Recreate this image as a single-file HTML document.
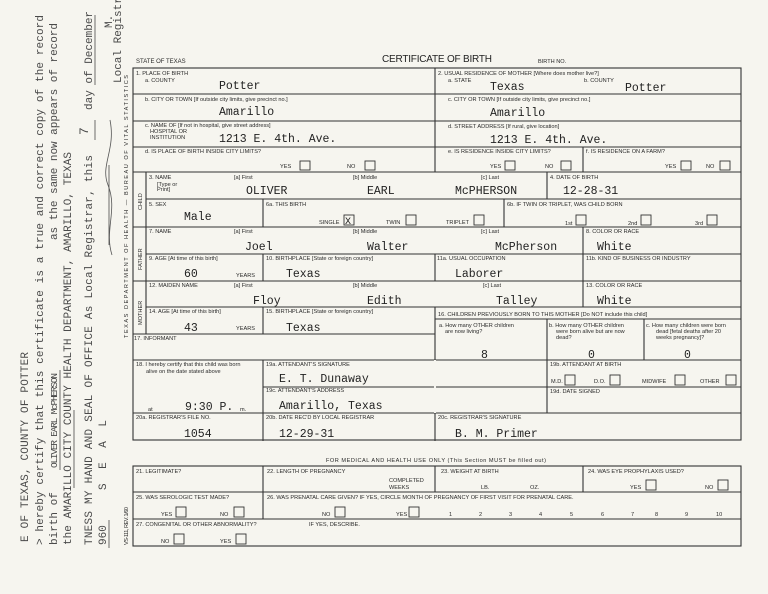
<!DOCTYPE html>
<html><head><meta charset="utf-8"><style>
html,body{margin:0;padding:0;background:#f6f5ef;}
svg{display:block}
.l{font-family:"Liberation Sans",sans-serif;font-size:5.6px;fill:#2a2a2a}
.v{font-family:"Liberation Mono",monospace;font-size:11.5px;fill:#222}
.r{font-family:"Liberation Mono",monospace;font-size:11px;fill:#4a4a4a}
.ln{stroke:#333;stroke-width:1.1;fill:none}
.bx{stroke:#333;stroke-width:0.9;fill:none}
</style></head><body>
<svg width="768" height="594" viewBox="0 0 768 594" xmlns="http://www.w3.org/2000/svg">
<rect width="768" height="594" fill="#f6f5ef"/>
<!-- left rotated certification -->
<g class="r">
<text transform="translate(28,542) rotate(-90)" textLength="190">E OF TEXAS, COUNTY OF POTTER</text>
<text transform="translate(43,545) rotate(-90)" textLength="530">&gt; hereby certify that this certificate is a true and correct copy of the record</text>
<text transform="translate(57,545) rotate(-90)">birth of</text>
<text transform="translate(57,468) rotate(-90)" style="font-size:9.5px" textLength="95">OLIVER EARL McPHERSON</text>
<text transform="translate(57,240) rotate(-90)" textLength="217">as the same now appears of record</text>
<text transform="translate(71,545) rotate(-90)" textLength="393">the AMARILLO CITY COUNTY HEALTH DEPARTMENT, AMARILLO, TEXAS</text>
<text transform="translate(92,545) rotate(-90)" textLength="390">TNESS MY HAND AND SEAL OF OFFICE As Local Registrar, this</text>
<text transform="translate(88,135) rotate(-90)" style="font-size:13px">7</text>
<text transform="translate(92,110) rotate(-90)">day of December</text>
<text transform="translate(106,545) rotate(-90)">960</text>
<text transform="translate(106,490) rotate(-90)" textLength="70">S E A L</text>
<text transform="translate(112,28) rotate(-90)">M.</text>
<text transform="translate(121,83) rotate(-90)">Local Registr</text>
</g>
<line class="ln" x1="60" y1="470" x2="60" y2="370" style="stroke-width:0.7"/>
<line class="ln" x1="74" y1="488" x2="74" y2="410" style="stroke-width:0.7"/>
<line class="ln" x1="109" y1="548" x2="109" y2="520" style="stroke-width:0.7"/>
<line class="ln" x1="109" y1="245" x2="109" y2="165" style="stroke-width:0.7"/>
<line class="ln" x1="95" y1="140" x2="95" y2="120" style="stroke-width:0.7"/>
<line class="ln" x1="95" y1="85" x2="95" y2="15" style="stroke-width:0.7"/>
<path d="M112 255 C104 230 118 210 108 185 C100 165 116 150 110 120" stroke="#555" stroke-width="0.8" fill="none"/>
<g class="l">
<text transform="translate(128,338) rotate(-90)" textLength="263">TEXAS DEPARTMENT OF HEALTH — BUREAU OF VITAL STATISTICS</text>
<text transform="translate(128,545) rotate(-90)" textLength="38">VS-111, REV. 1/60</text>
</g>

<!-- header -->
<text class="l" x="136" y="63" style="font-size:6px">STATE OF TEXAS</text>
<text x="382" y="62" style="font-family:'Liberation Sans',sans-serif;font-size:10px;fill:#222" textLength="110">CERTIFICATE OF BIRTH</text>
<text class="l" x="538" y="63">BIRTH NO.</text>

<!-- main box lines -->
<g class="ln">
<rect x="133" y="68" width="608" height="372"/>
<line x1="435" y1="68" x2="435" y2="172"/>
<line x1="133" y1="94" x2="741" y2="94"/>
<line x1="133" y1="121" x2="741" y2="121"/>
<line x1="133" y1="147" x2="741" y2="147"/>
<line x1="583" y1="147" x2="583" y2="172"/>
<line x1="133" y1="172" x2="741" y2="172"/>
<line x1="146" y1="172" x2="146" y2="334"/>
<line x1="547" y1="172" x2="547" y2="199"/>
<line x1="146" y1="199" x2="741" y2="199"/>
<line x1="263" y1="199" x2="263" y2="227"/>
<line x1="504" y1="199" x2="504" y2="227"/>
<line x1="133" y1="227" x2="741" y2="227"/>
<line x1="583" y1="227" x2="583" y2="307"/>
<line x1="146" y1="254" x2="741" y2="254"/>
<line x1="263" y1="254" x2="263" y2="281"/>
<line x1="435" y1="254" x2="435" y2="281"/>
<line x1="133" y1="281" x2="741" y2="281"/>
<line x1="146" y1="307" x2="741" y2="307"/>
<line x1="263" y1="307" x2="263" y2="334"/>
<line x1="435" y1="307" x2="435" y2="441"/>
<line x1="435" y1="319" x2="741" y2="319"/>
<line x1="547" y1="319" x2="547" y2="413"/>
<line x1="644" y1="319" x2="644" y2="360"/>
<line x1="133" y1="334" x2="435" y2="334"/>
<line x1="133" y1="360" x2="741" y2="360"/>
<line x1="263" y1="360" x2="263" y2="441"/>
<line x1="263" y1="387" x2="741" y2="387"/>
<line x1="133" y1="413" x2="741" y2="413"/>
</g>
<line x1="435" y1="360" x2="435" y2="413" stroke="#f6f5ef" stroke-width="2"/>

<!-- section 1 left -->
<g class="l">
<text x="136" y="75">1. PLACE OF BIRTH</text>
<text x="145" y="82">a. COUNTY</text>
<text x="145" y="101">b. CITY OR TOWN [If outside city limits, give precinct no.]</text>
<text x="145" y="127">c. NAME OF [If not in hospital, give street address]</text>
<text x="150" y="133">HOSPITAL OR</text>
<text x="150" y="139">INSTITUTION</text>
<text x="145" y="153">d. IS PLACE OF BIRTH INSIDE CITY LIMITS?</text>
<text x="280" y="168">YES</text><text x="347" y="168">NO</text>
<text x="438" y="75">2. USUAL RESIDENCE OF MOTHER [Where does mother live?]</text>
<text x="448" y="82">a. STATE</text><text x="584" y="82">b. COUNTY</text>
<text x="448" y="101">c. CITY OR TOWN [If outside city limits, give precinct no.]</text>
<text x="448" y="128">d. STREET ADDRESS [If rural, give location]</text>
<text x="448" y="153">e. IS RESIDENCE INSIDE CITY LIMITS?</text>
<text x="586" y="153">f. IS RESIDENCE ON A FARM?</text>
<text x="490" y="168">YES</text><text x="545" y="168">NO</text>
<text x="665" y="168">YES</text><text x="706" y="168">NO</text>
</g>
<g class="v">
<text x="219" y="89">Potter</text>
<text x="219" y="115">Amarillo</text>
<text x="219" y="142">1213 E. 4th. Ave.</text>
<text x="490" y="90">Texas</text>
<text x="625" y="91">Potter</text>
<text x="490" y="116">Amarillo</text>
<text x="490" y="143">1213 E. 4th. Ave.</text>
</g>
<g class="bx">
<rect x="300" y="161" width="10" height="9"/><rect x="365" y="161" width="10" height="9"/>
<rect x="505" y="161" width="10" height="9"/><rect x="561" y="161" width="10" height="9"/>
<rect x="681" y="161" width="10" height="9"/><rect x="720" y="161" width="10" height="9"/>
</g>

<!-- sidebar labels -->
<g class="l">
<text transform="translate(142,210) rotate(-90)">CHILD</text>
<text transform="translate(142,270) rotate(-90)">FATHER</text>
<text transform="translate(142,325) rotate(-90)">MOTHER</text>
</g>

<!-- child -->
<g class="l">
<text x="149" y="179">3. NAME</text>
<text x="157" y="186">[Type or</text><text x="157" y="191">Print]</text>
<text x="234" y="179">[a] First</text><text x="353" y="179">[b] Middle</text><text x="481" y="179">[c] Last</text>
<text x="550" y="179">4. DATE OF BIRTH</text>
<text x="149" y="206">5. SEX</text>
<text x="266" y="206">6a. THIS BIRTH</text>
<text x="319" y="224">SINGLE</text><text x="386" y="224">TWIN</text><text x="446" y="224">TRIPLET</text>
<text x="507" y="206">6b. IF TWIN OR TRIPLET, WAS CHILD BORN</text>
<text x="565" y="225">1st</text><text x="628" y="225">2nd</text><text x="695" y="225">3rd</text>
</g>
<g class="v">
<text x="246" y="194">OLIVER</text><text x="367" y="194">EARL</text><text x="455" y="194">McPHERSON</text>
<text x="563" y="194">12-28-31</text>
<text x="184" y="220">Male</text>
</g>
<g class="bx">
<rect x="344" y="215" width="10" height="10"/>
<rect x="406" y="215" width="10" height="10"/>
<rect x="474" y="215" width="10" height="10"/>
<rect x="576" y="215" width="10" height="10"/>
<rect x="641" y="215" width="10" height="10"/>
<rect x="707" y="215" width="10" height="10"/>
</g>
<text x="345" y="224" style="font-family:'Liberation Mono',monospace;font-size:10px;fill:#222">X</text>

<!-- father -->
<g class="l">
<text x="149" y="233">7. NAME</text>
<text x="234" y="233">[a] First</text><text x="353" y="233">[b] Middle</text><text x="481" y="233">[c] Last</text>
<text x="586" y="233">8. COLOR OR RACE</text>
<text x="149" y="260">9. AGE [At time of this birth]</text>
<text x="236" y="277">YEARS</text>
<text x="266" y="260">10. BIRTHPLACE [State or foreign country]</text>
<text x="437" y="260">11a. USUAL OCCUPATION</text>
<text x="586" y="260">11b. KIND OF BUSINESS OR INDUSTRY</text>
</g>
<g class="v">
<text x="245" y="250">Joel</text><text x="367" y="250">Walter</text><text x="495" y="250">McPherson</text>
<text x="597" y="250">White</text>
<text x="184" y="277">60</text><text x="286" y="277">Texas</text><text x="455" y="277">Laborer</text>
</g>

<!-- mother -->
<g class="l">
<text x="149" y="287">12. MAIDEN NAME</text>
<text x="234" y="287">[a] First</text><text x="353" y="287">[b] Middle</text><text x="483" y="287">[c] Last</text>
<text x="586" y="287">13. COLOR OR RACE</text>
<text x="149" y="313">14. AGE [At time of this birth]</text>
<text x="236" y="330">YEARS</text>
<text x="266" y="313">15. BIRTHPLACE [State or foreign country]</text>
<text x="438" y="316">16. CHILDREN PREVIOUSLY BORN TO THIS MOTHER [Do NOT include this child]</text>
<text x="439" y="327">a. How many OTHER children</text><text x="445" y="333">are now living?</text>
<text x="549" y="327">b. How many OTHER children</text><text x="556" y="333">were born alive but are now</text><text x="556" y="339">dead?</text>
<text x="646" y="327">c. How many children were born</text><text x="656" y="333">dead [fetal deaths after 20</text><text x="656" y="339">weeks pregnancy]?</text>
<text x="134" y="340">17. INFORMANT</text>
</g>
<g class="v">
<text x="253" y="304">Floy</text><text x="367" y="304">Edith</text><text x="496" y="304">Talley</text><text x="597" y="304">White</text>
<text x="184" y="331">43</text><text x="286" y="331">Texas</text>
<text x="481" y="358">8</text><text x="588" y="358">0</text><text x="684" y="358">0</text>
</g>

<!-- 18-20 -->
<g class="l">
<text x="136" y="366">18. I hereby certify that this child was born</text>
<text x="146" y="373">alive on the date stated above</text>
<text x="148" y="411">at</text><text x="240" y="411">m.</text>
<text x="266" y="366">19a. ATTENDANT'S SIGNATURE</text>
<text x="266" y="392">19c. ATTENDANT'S ADDRESS</text>
<text x="550" y="366">19b. ATTENDANT AT BIRTH</text>
<text x="551" y="383">M.D.</text><text x="594" y="383">D.O.</text><text x="642" y="383">MIDWIFE</text><text x="700" y="383">OTHER</text>
<text x="550" y="393">19d. DATE SIGNED</text>
<text x="136" y="419">20a. REGISTRAR'S FILE NO.</text>
<text x="266" y="419">20b. DATE REC'D BY LOCAL REGISTRAR</text>
<text x="438" y="419">20c. REGISTRAR'S SIGNATURE</text>
</g>
<g class="v">
<text x="185" y="410">9:30 P.</text>
<text x="279" y="382">E. T. Dunaway</text>
<text x="279" y="409">Amarillo, Texas</text>
<text x="184" y="437">1054</text>
<text x="279" y="437">12-29-31</text>
<text x="455" y="437">B. M. Primer</text>
</g>
<g class="bx">
<rect x="565" y="375" width="10" height="10"/><rect x="610" y="375" width="10" height="10"/>
<rect x="675" y="375" width="10" height="10"/><rect x="726" y="375" width="10" height="10"/>
</g>

<!-- bottom section -->
<text class="l" x="326" y="462" textLength="220">FOR MEDICAL AND HEALTH USE ONLY (This Section MUST be filled out)</text>
<g class="ln">
<rect x="133" y="466" width="608" height="80"/>
<line x1="133" y1="492" x2="741" y2="492"/>
<line x1="133" y1="519" x2="741" y2="519"/>
<line x1="263" y1="466" x2="263" y2="519"/>
<line x1="435" y1="466" x2="435" y2="492"/>
<line x1="583" y1="466" x2="583" y2="492"/>
</g>
<g class="l">
<text x="136" y="473">21. LEGITIMATE?</text>
<text x="267" y="473">22. LENGTH OF PREGNANCY</text>
<text x="389" y="482">COMPLETED</text><text x="389" y="489">WEEKS</text>
<text x="441" y="473">23. WEIGHT AT BIRTH</text>
<text x="481" y="489">LB.</text><text x="530" y="489">OZ.</text>
<text x="588" y="473">24. WAS EYE PROPHYLAXIS USED?</text>
<text x="630" y="489">YES</text><text x="705" y="489">NO</text>
<text x="136" y="499">25. WAS SEROLOGIC TEST MADE?</text>
<text x="161" y="516">YES</text><text x="220" y="516">NO</text>
<text x="267" y="499">26. WAS PRENATAL CARE GIVEN?   IF YES, CIRCLE MONTH OF PREGNANCY OF FIRST VISIT FOR PRENATAL CARE.</text>
<text x="322" y="516">NO</text><text x="396" y="516">YES</text>
<text x="449" y="516">1</text><text x="479" y="516">2</text><text x="509" y="516">3</text><text x="539" y="516">4</text><text x="570" y="516">5</text>
<text x="601" y="516">6</text><text x="631" y="516">7</text><text x="655" y="516">8</text><text x="685" y="516">9</text><text x="716" y="516">10</text>
<text x="136" y="526">27. CONGENITAL OR OTHER ABNORMALITY?</text>
<text x="309" y="526">IF YES, DESCRIBE.</text>
<text x="161" y="543">NO</text><text x="220" y="543">YES</text>
</g>
<g class="bx">
<rect x="646" y="480" width="10" height="10"/><rect x="718" y="480" width="10" height="10"/>
<rect x="176" y="507" width="10" height="10"/><rect x="234" y="507" width="10" height="10"/>
<rect x="335" y="507" width="10" height="10"/><rect x="409" y="507" width="10" height="10"/>
<rect x="174" y="534" width="10" height="10"/><rect x="236" y="534" width="10" height="10"/>
</g>
</svg>
</body></html>
